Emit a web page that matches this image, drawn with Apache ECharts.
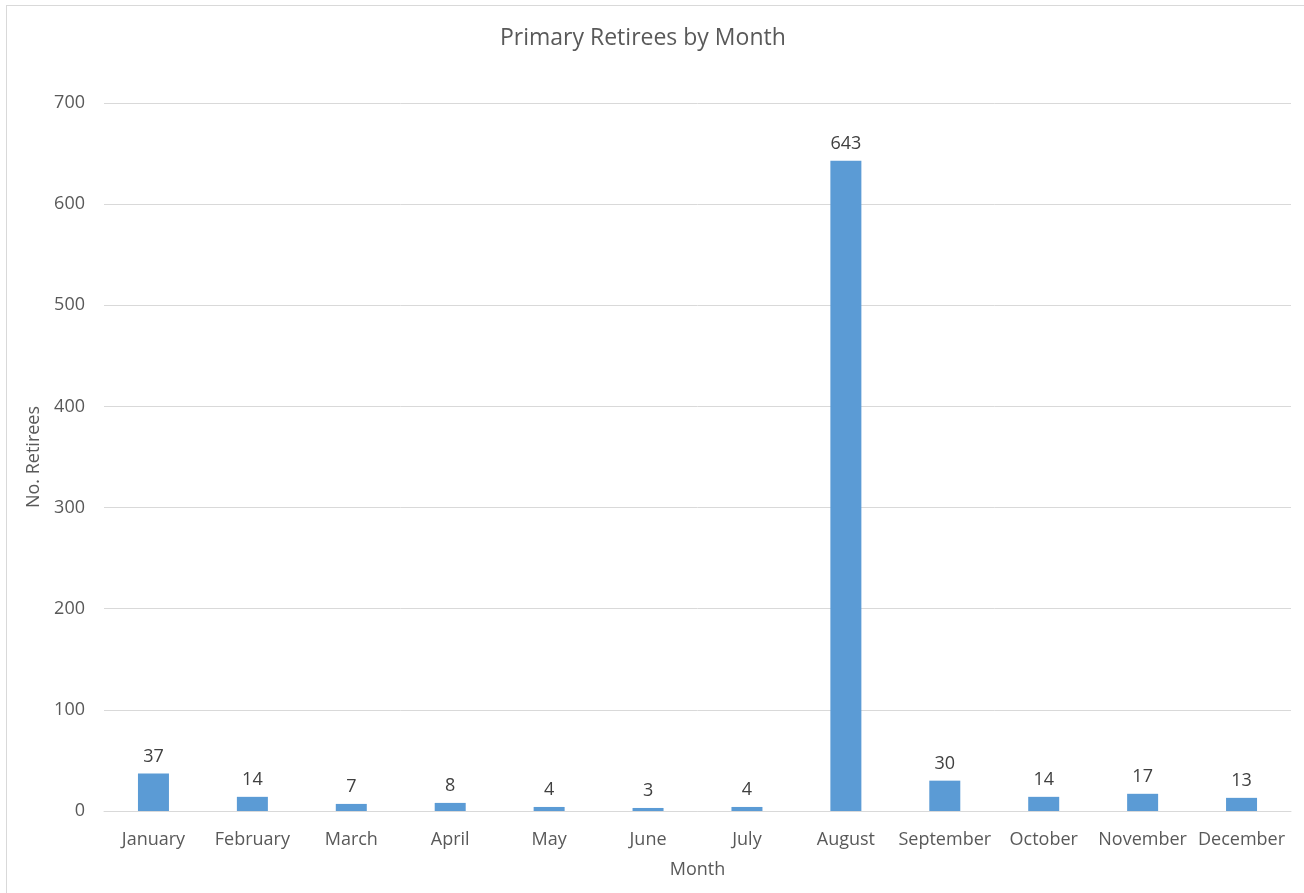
<!DOCTYPE html>
<html>
<head>
<meta charset="utf-8">
<script src="https://cdn.jsdelivr.net/npm/echarts@6/dist/echarts.min.js"></script>
<style>
html,body{margin:0;padding:0;background:#fff;}
#frame{position:absolute;left:6px;top:5px;width:1400px;height:1000px;border-left:1px solid #d9d9d9;border-top:1px solid #d9d9d9;}
#chart{position:absolute;left:0;top:0;width:1304px;height:893px;}
</style>
</head>
<body>
<div id="frame"></div>
<div id="chart"></div>
<script>
const months = ["January","February","March","April","May","June","July","August","September","October","November","December"];
const retirees = [37,14,7,8,4,3,4,643,30,14,17,13];
const yTicks = {min:0, max:700, interval:100};

const font = "'Open Sans', 'Liberation Sans', sans-serif";
const chart = echarts.init(document.getElementById('chart'), null, {renderer:'canvas'});
chart.setOption({
  animation:false,
  backgroundColor:'transparent',
  title:{
    text:'Primary Retirees by Month',
    left:495, top:22,
    textStyle:{fontFamily:font, fontSize:23, fontWeight:'normal', color:'#595959'}
  },
  grid:{left:104, right:13, top:103, bottom:82, containLabel:false},
  xAxis:{
    type:'category',
    data:months,
    name:'Month',
    nameLocation:'middle',
    nameGap:50,
    nameTextStyle:{fontFamily:font, fontSize:18, color:'#595959'},
    axisLine:{lineStyle:{color:'#d9d9d9', width:1}},
    axisTick:{show:false},
    axisLabel:{fontFamily:font, fontSize:18, color:'#595959', margin:20, interval:0}
  },
  yAxis:{
    type:'value',
    min:yTicks.min, max:yTicks.max, interval:yTicks.interval,
    name:'No. Retirees',
    nameLocation:'middle',
    nameGap:56,
    nameRotate:90,
    nameTextStyle:{fontFamily:font, fontSize:18, color:'#595959'},
    axisLine:{show:false},
    axisTick:{show:false},
    axisLabel:{fontFamily:font, fontSize:18, color:'#595959', margin:19},
    splitLine:{lineStyle:{color:'#d9d9d9', width:1}}
  },
  series:[{
    type:'bar',
    data:retirees,
    barWidth:31,
    itemStyle:{color:'#5b9bd5'},
    label:{show:true, position:'top', distance:8, fontFamily:font, fontSize:18, color:'#404040'}
  }]
});
</script>
</body>
</html>
